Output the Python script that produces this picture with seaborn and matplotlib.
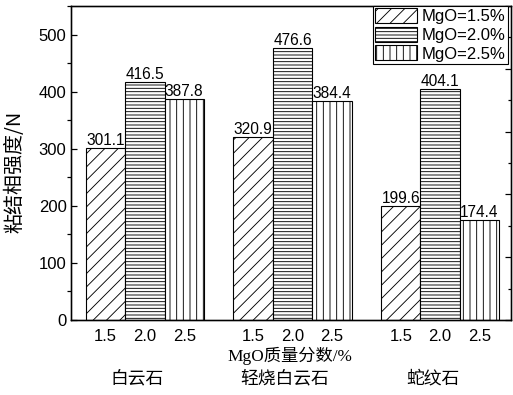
import matplotlib
matplotlib.use("Agg")
import matplotlib.pyplot as plt
import matplotlib.transforms as mtransforms
from matplotlib.ticker import MultipleLocator
import numpy as np
import pandas as pd
import seaborn as sns

# Bond-phase strength (N) for three flux materials at three MgO contents
categories = ["白云石", "轻烧白云石", "蛇纹石"]
mgo_levels = ["1.5", "2.0", "2.5"]
strength_mgo_15 = [301.1, 320.9, 199.6]
strength_mgo_20 = [416.5, 476.6, 404.1]
strength_mgo_25 = [387.8, 384.4, 174.4]
legend_labels = ["MgO=1.5%", "MgO=2.0%", "MgO=2.5%"]
hatches = ["//", "----", "||"]

rows = []
for level, values in zip(mgo_levels, [strength_mgo_15, strength_mgo_20, strength_mgo_25]):
    for cat, v in zip(categories, values):
        rows.append({"material": cat, "MgO": level, "strength": v})
df = pd.DataFrame(rows)

plt.rcParams["font.family"] = ["Liberation Sans", "Noto Sans CJK SC"]
plt.rcParams["hatch.linewidth"] = 0.8
plt.rcParams["axes.linewidth"] = 1.2

DPI = 80
fig = plt.figure(figsize=(513 / DPI, 395 / DPI), dpi=DPI)
ax = fig.add_axes([71 / 513, 1 - 320 / 395, 440 / 513, 314 / 395])

sns.barplot(data=df, x="material", y="strength", hue="MgO",
            order=categories, hue_order=mgo_levels,
            palette=["white"] * 3, saturation=1, edgecolor="black",
            linewidth=1.0, width=0.8, errorbar=None, legend=False, ax=ax)

for container, h in zip(ax.containers, hatches):
    for patch in container:
        patch.set_hatch(h)
        patch.set_edgecolor("black")
    ax.bar_label(container, fmt="%.1f", padding=0, fontsize=14)

ax.set_xlim(-0.5, 2.48)
ax.set_ylim(0, 550)

# x ticks: one label per bar (MgO level)
centers, labels = [], []
for level, container in zip(mgo_levels, ax.containers):
    for patch in container:
        centers.append(patch.get_x() + patch.get_width() / 2)
        labels.append(level)
order = np.argsort(centers)
ax.set_xticks([centers[i] for i in order])
ax.set_xticklabels([labels[i] for i in order], fontsize=15)
ax.tick_params(axis="x", length=0, pad=8)
ax.set_xlabel("")
ax.set_ylabel("")

ax.yaxis.set_major_locator(MultipleLocator(100))
ax.yaxis.set_minor_locator(MultipleLocator(50))
ax.tick_params(axis="y", which="major", direction="in", length=5.5, width=1.1,
               labelsize=15, pad=4)
ax.tick_params(axis="y", which="minor", direction="out", length=3.5, width=1.1)

# material names under each group
trans = mtransforms.blended_transform_factory(ax.transData, ax.transAxes)
for i, cat in enumerate(categories):
    ax.text(i - 0.05, -0.185, cat, transform=trans, ha="center", va="center",
            fontsize=16, family=["Noto Sans CJK SC"])

ax.text(0.498, -0.113, "MgO质量分数/%", transform=ax.transAxes, ha="center",
        va="center", fontsize=15.5, family=["Liberation Serif", "Noto Sans CJK SC"])

fig.text(15 / 513, 1 - 172 / 395, "粘结相强度/N", rotation=90, ha="center",
         va="center", fontsize=18, family=["Noto Sans CJK SC", "Liberation Serif"])

# secondary right axis with its own tick scale
twin = ax.twinx()
twin.set_ylim(0, 10)
twin.yaxis.set_major_locator(MultipleLocator(2))
twin.yaxis.set_minor_locator(MultipleLocator(1))
twin.tick_params(axis="y", which="major", direction="in", length=5, width=1.1,
                 labelright=False)
twin.tick_params(axis="y", which="minor", direction="in", length=3, width=1.1)

leg = twin.legend(ax.containers, legend_labels, loc="upper right",
                  bbox_to_anchor=(1 - 3 / 440, 1.0), borderaxespad=0,
                  fontsize=15, frameon=True, fancybox=False, framealpha=1,
                  edgecolor="black", handlelength=2.5, handleheight=1.0,
                  handletextpad=0.3, labelspacing=0.15, borderpad=0.12)
leg.get_frame().set_linewidth(1.0)

fig.savefig("out.png", dpi=DPI)
